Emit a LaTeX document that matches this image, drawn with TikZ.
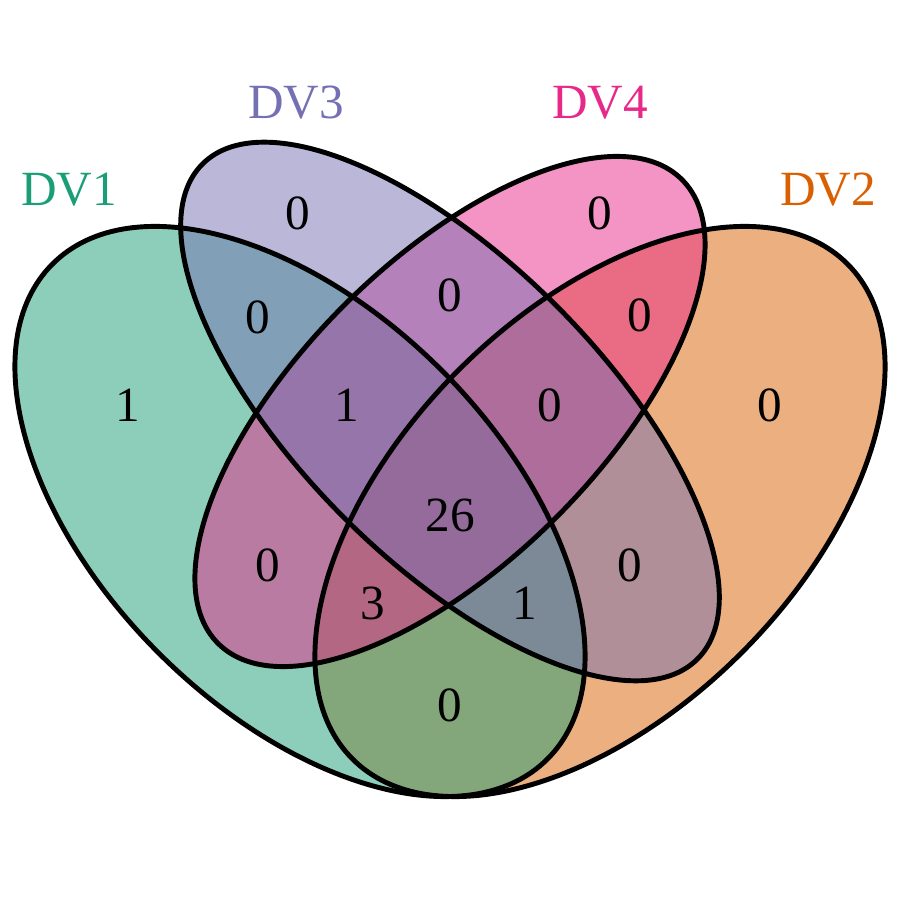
\documentclass[tikz,border=0pt]{standalone}
\usepackage{fontspec}
\setmainfont{Liberation Serif}
\usepackage{xcolor}
\usepackage{tikz}

\definecolor{dvgreen}{HTML}{1B9E77}
\definecolor{dvorange}{HTML}{D95F02}
\definecolor{dvpurple}{HTML}{7570B3}
\definecolor{dvpink}{HTML}{E7298A}

\begin{document}
\begin{tikzpicture}[line width=1.4pt,
    count/.style={font=\fontsize{14}{16}\selectfont, inner sep=0pt},
    setname/.style={font=\fontsize{14}{16}\selectfont, inner sep=0pt}]
        \useasboundingbox (0,0) rectangle (9,9);
        % four-set Venn diagram, fills first (alpha 0.5)
        \fill[dvorange, fill opacity=0.5] (6.00,3.885) ellipse[x radius=3.5, y radius=2.0, rotate=45];
        \fill[dvgreen, fill opacity=0.5] (3.00,3.885) ellipse[x radius=3.5, y radius=2.0, rotate=-45];
        \fill[dvpink, fill opacity=0.5] (4.50,4.885) ellipse[x radius=3.28, y radius=1.5, rotate=45];
        \fill[dvpurple, fill opacity=0.5] (4.50,4.885) ellipse[x radius=3.5, y radius=1.5, rotate=-45];
        % outlines
        \draw (3.00,3.885) ellipse[x radius=3.5, y radius=2.0, rotate=-45];
        \draw (6.00,3.885) ellipse[x radius=3.5, y radius=2.0, rotate=45];
        \draw (4.50,4.885) ellipse[x radius=3.5, y radius=1.5, rotate=-45];
        \draw (4.50,4.885) ellipse[x radius=3.28, y radius=1.5, rotate=45];
        % set names
        \node[setname, text=dvgreen] (dv1) at (0.69,7.10) {DV1};
        \node[setname, text=dvpurple] (dv3) at (2.96,7.97) {DV3};
        \node[setname, text=dvpink] (dv4) at (6.00,7.97) {DV4};
        \node[setname, text=dvorange] (dv2) at (8.28,7.10) {DV2};
        % region counts
        \node[count] (a1) at (1.28,4.95) {1};
        \node[count] (a3) at (2.98,6.87) {0};
        \node[count] (a4) at (6.00,6.87) {0};
        \node[count] (a2) at (7.70,4.95) {0};
        \node[count] (a13) at (2.58,5.83) {0};
        \node[count] (a34) at (4.50,6.05) {0};
        \node[count] (a24) at (6.40,5.85) {0};
        \node[count] (a134) at (3.47,4.95) {1};
        \node[count] (a234) at (5.50,4.95) {0};
        \node[count] (a1234) at (4.50,3.85) {26};
        \node[count] (a14) at (2.68,3.35) {0};
        \node[count] (a23) at (6.30,3.35) {0};
        \node[count] (a124) at (3.73,2.97) {3};
        \node[count] (a123) at (5.25,2.97) {1};
        \node[count] (a12) at (4.50,1.95) {0};
    \end{tikzpicture}
\end{document}
